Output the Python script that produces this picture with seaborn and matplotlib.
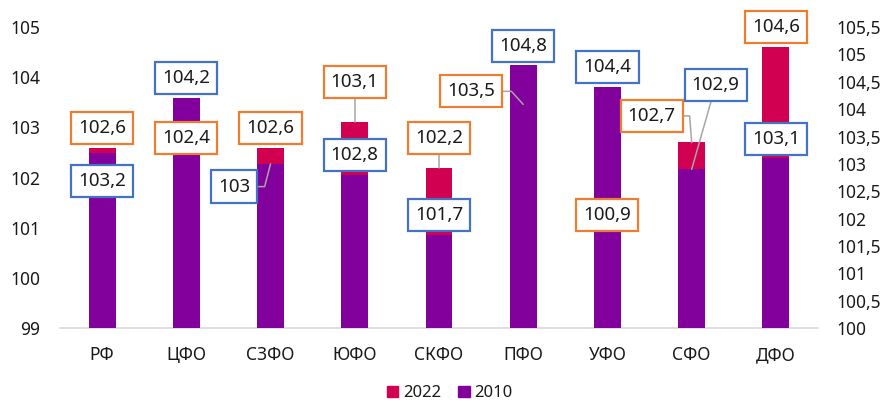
import matplotlib
matplotlib.use("Agg")
import matplotlib.pyplot as plt
import seaborn as sns
import pandas as pd
from matplotlib.patches import Patch

# ---- data ----
regions = ["РФ", "ЦФО", "СЗФО", "ЮФО", "СКФО", "ПФО", "УФО", "СФО", "ДФО"]
vals_2022 = [102.6, 102.4, 102.6, 103.1, 102.2, 103.5, 100.9, 102.7, 104.6]
vals_2010 = [103.2, 104.2, 103.0, 102.8, 101.7, 104.8, 104.4, 102.9, 103.1]
left_ticks = [99, 100, 101, 102, 103, 104, 105]
right_ticks = [100, 100.5, 101, 101.5, 102, 102.5, 103, 103.5, 104, 104.5, 105, 105.5]
series_names = ["2022", "2010"]

# ---- layout of value labels (left-axis units) ----
lab22_dx = [0, 0, 0, 0, 0, -0.62, 0, -0.475, 0]
lab22_y = [102.99, 102.79, 102.99, 103.90, 102.79, 103.72, 101.25, 103.23, 105.0]
lab10_dx = [0, 0, -0.43, 0, 0, 0, 0, 0.285, 0]
lab10_y = [101.93, 103.98, 101.82, 102.45, 101.25, 104.62, 104.20, 103.84, 102.77]

C22 = "#D10050"
C10 = "#82009B"
ORANGE = "#ED7D31"
BLUE = "#4472C4"
GRAY = "#A6A6A6"
TXT = "#1A1A1A"

sns.set_theme(style="white")
plt.rcParams['font.family'] = ['Noto Sans', 'DejaVu Sans']

fig = plt.figure(figsize=(8.87, 4.05), dpi=100)
ax = fig.add_axes([0.0676, 0.190, 0.8546, 0.743])
ax2 = ax.twinx()

df = pd.DataFrame({"region": regions, "v2022": vals_2022, "v2010": vals_2010})
sns.barplot(data=df, x="region", y="v2022", ax=ax, color=C22, width=0.32,
            saturation=1, linewidth=0)
sns.barplot(data=df, x="region", y="v2010", ax=ax2, color=C10, width=0.32,
            saturation=1, linewidth=0)

ax.set_ylim(99, 105)
ax2.set_ylim(100, 105.5)
ax.set_xlim(-0.5, len(regions) - 0.5)
ax.set_yticks(left_ticks)
ax.set_yticklabels([f"{t:g}".replace(".", ",") for t in left_ticks])
ax2.set_yticks(right_ticks)
ax2.set_yticklabels([f"{t:g}".replace(".", ",") for t in right_ticks])
ax.set_xlabel("")
ax.set_ylabel("")
ax2.set_ylabel("")
ax2.set_xlabel("")

for a in (ax, ax2):
    for s in a.spines.values():
        s.set_visible(False)
ax.spines["bottom"].set_visible(True)
ax.spines["bottom"].set_color("#D9D9D9")
ax.spines["bottom"].set_linewidth(1.2)

ax.tick_params(axis="y", length=0, pad=14, labelsize=12.5, labelcolor=TXT)
ax.tick_params(axis="x", length=0, pad=13, labelsize=12.5, labelcolor=TXT)
ax2.tick_params(axis="y", length=0, pad=13, labelsize=12.5, labelcolor=TXT)


def r2l(v):
    return 99 + (v - 100) * 6 / 5.5


tr = ax.transData
lkw = dict(color=GRAY, lw=1.1, transform=tr, clip_on=False, zorder=5)

# leader lines
ax2.plot([2 - 0.43, 2 - 0.07, 2], [lab10_y[2], lab10_y[2], r2l(vals_2010[2])], **lkw)
ax2.plot([3, 3], [lab22_y[3], vals_2022[3]], **lkw)
ax2.plot([4, 4], [lab22_y[4], vals_2022[4]], **lkw)
ax2.plot([5 - 0.62, 5 - 0.14, 5], [lab22_y[5], lab22_y[5], vals_2022[5] - 0.04], **lkw)
ax2.plot([7 - 0.475, 7 - 0.024, 7], [lab22_y[7], lab22_y[7], vals_2022[7]], **lkw)
ax2.plot([7 + 0.285, 7], [lab10_y[7], r2l(vals_2010[7])], **lkw)


def fmt(v):
    return f"{v:g}".replace(".", ",")


for i in range(len(regions)):
    ax2.text(i + lab22_dx[i], lab22_y[i], fmt(vals_2022[i]), transform=tr,
             ha="center", va="center", fontsize=13.5, color=TXT, zorder=10,
             bbox=dict(boxstyle="square,pad=0.38", fc="white", ec=ORANGE, lw=1.6))
    ax2.text(i + lab10_dx[i], lab10_y[i], fmt(vals_2010[i]), transform=tr,
             ha="center", va="center", fontsize=13.5, color=TXT, zorder=10,
             bbox=dict(boxstyle="square,pad=0.38", fc="white", ec=BLUE, lw=1.6))

handles = [Patch(color=C22, label=series_names[0]), Patch(color=C10, label=series_names[1])]
fig.legend(handles=handles, loc="lower center", bbox_to_anchor=(0.507, -0.028), ncol=2,
           frameon=False, handlelength=0.7, handleheight=0.7, handletextpad=0.3,
           columnspacing=1.0, fontsize=12, labelcolor=TXT)

fig.savefig("out.png", dpi=100)
